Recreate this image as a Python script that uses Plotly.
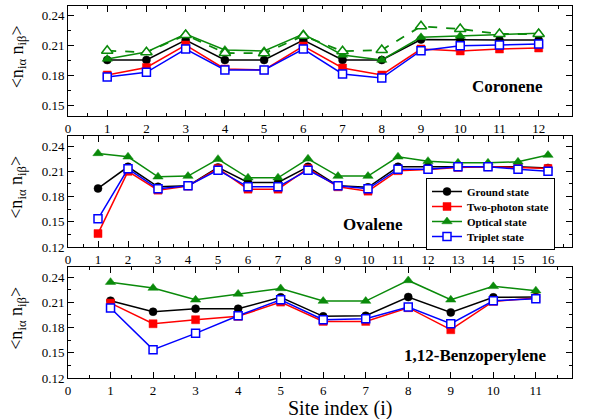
import plotly.graph_objects as go

# ---------------- data ----------------
sites_cor = list(range(1, 13))
ground_cor = [0.195, 0.195, 0.215, 0.195, 0.195, 0.215, 0.195, 0.195, 0.2155, 0.215, 0.215, 0.215]
twophoton_cor = [0.180, 0.1875, 0.210, 0.186, 0.185, 0.209, 0.187, 0.180, 0.206, 0.204, 0.206, 0.207]
optical_cor = [0.196, 0.203, 0.221, 0.205, 0.204, 0.221, 0.200, 0.195, 0.2177, 0.219, 0.221, 0.2217]
optical2_cor = [0.2043, 0.2027, 0.220, 0.202, 0.2017, 0.2193, 0.2037, 0.205, 0.2287, 0.226, 0.221, 0.221]
triplet_cor = [0.178, 0.1827, 0.206, 0.185, 0.185, 0.206, 0.181, 0.177, 0.2043, 0.2093, 0.210, 0.211]

sites_ova = list(range(1, 17))
ground_ova = [0.1896, 0.2154, 0.1916, 0.1928, 0.2146, 0.1967, 0.1967, 0.2154, 0.1928, 0.191,
              0.2154, 0.2154, 0.2154, 0.2154, 0.2154, 0.214]
twophoton_ova = [0.136, 0.210, 0.1876, 0.1924, 0.2134, 0.1888, 0.1888, 0.2134, 0.1916, 0.1864,
                 0.2108, 0.2122, 0.2146, 0.2154, 0.2146, 0.2134]
optical_ova = [0.2313, 0.2273, 0.2035, 0.2043, 0.2245, 0.2023, 0.2023, 0.2249, 0.2043, 0.2043,
               0.2273, 0.2221, 0.2201, 0.2201, 0.2213, 0.2293]
triplet_ova = [0.1535, 0.213, 0.1892, 0.1928, 0.2114, 0.1916, 0.1916, 0.2114, 0.1928, 0.1892,
               0.2126, 0.2126, 0.2154, 0.2154, 0.2126, 0.2102]

sites_bzp = list(range(1, 12))
ground_bzp = [0.2119, 0.1988, 0.2024, 0.2024, 0.2159, 0.1933, 0.194, 0.2163, 0.198, 0.2159, 0.2163]
twophoton_bzp = [0.2091, 0.1845, 0.1893, 0.1933, 0.2103, 0.1873, 0.1873, 0.2036, 0.1774, 0.2111, 0.2151]
optical_bzp = [0.234, 0.227, 0.213, 0.220, 0.2265, 0.2115, 0.2115, 0.236, 0.213, 0.229, 0.2238]
triplet_bzp = [0.2032, 0.1537, 0.1731, 0.194, 0.213, 0.1893, 0.1905, 0.2044, 0.1845, 0.2119, 0.2143]

series_names = ["Ground state", "Two-photon state", "Optical state", "Triplet state"]
y_ticks = [0.12, 0.15, 0.18, 0.21, 0.24]
y_ticklabels = ["0.12", "0.15", "0.18", "0.21", "0.24"]
molecules = ["Coronene", "Ovalene", "1,12-Benzoperylene"]

# ---------------- styling ----------------
SERIF = "Liberation Serif"
GREEN = "#0a8a0a"
styles = [
    dict(color="black", symbol="circle", size=8),
    dict(color="#ff0000", symbol="square", size=8),
    dict(color=GREEN, symbol="triangle-up", size=9),
    dict(color="#0000ff", symbol="square-open", size=8),
]

fig = go.Figure()

panels = [
    (sites_cor, [ground_cor, twophoton_cor, optical_cor, triplet_cor], "x", "y", False),
    (sites_ova, [ground_ova, twophoton_ova, optical_ova, triplet_ova], "x2", "y2", True),
    (sites_bzp, [ground_bzp, twophoton_bzp, optical_bzp, triplet_bzp], "x3", "y3", False),
]

for sites, data, xa, ya, legend in panels:
    for name, vals, st in zip(series_names, data, styles):
        if st["symbol"] == "square-open":
            marker = dict(symbol="square", size=st["size"], color="white",
                          line=dict(color=st["color"], width=1.5))
        else:
            marker = dict(symbol=st["symbol"], size=st["size"], color=st["color"],
                          line=dict(color=st["color"], width=0.5))
        fig.add_trace(go.Scatter(
            x=sites, y=vals, mode="lines+markers", name="<b>" + name + "</b>",
            line=dict(color=st["color"], width=1.5),
            marker=marker, xaxis=xa, yaxis=ya, showlegend=legend,
        ))
    if xa == "x":
        fig.add_trace(go.Scatter(
            x=sites, y=optical2_cor, mode="lines+markers", name="Optical state (2)",
            line=dict(color=GREEN, width=1.8, dash="dash"),
            marker=dict(symbol="triangle-up", size=10, color="white",
                        line=dict(color=GREEN, width=1.5)),
            xaxis=xa, yaxis=ya, showlegend=False,
        ))

# ---------------- layout ----------------
L, R, T, B = 68, 34, 6, 41
W, H = 606, 419
PH = H - T - B


def dom(top_px, bot_px):
    return [(H - B - bot_px) / PH, (H - B - top_px) / PH]


common_x = dict(showgrid=False, zeroline=False, showline=True, linecolor="black", linewidth=1,
                mirror="allticks", ticks="inside", ticklen=6, tickcolor="black", dtick=1, tick0=0,
                minor=dict(ticks="inside", ticklen=3, dtick=0.5, tickcolor="black"),
                tickfont=dict(family=SERIF, size=13, color="black"), domain=[0, 1])
common_y = dict(showgrid=False, zeroline=False, showline=True, linecolor="black", linewidth=1,
                mirror="allticks", ticks="inside", ticklen=6, tickcolor="black",
                tickvals=y_ticks, ticktext=y_ticklabels,
                minor=dict(ticks="inside", ticklen=3, tickvals=[0.135, 0.165, 0.195, 0.225],
                           tickcolor="black"),
                tickfont=dict(family=SERIF, size=13, color="black"))

fig.update_layout(
    width=W, height=H, margin=dict(l=L, r=R, t=T, b=B),
    paper_bgcolor="white", plot_bgcolor="white",
    font=dict(family=SERIF, color="black"),
    xaxis=dict(common_x, range=[0, 12.85], anchor="y"),
    yaxis=dict(common_y, range=[0.139, 0.249], domain=dom(6, 116), anchor="x"),
    xaxis2=dict(common_x, range=[0, 16.8], anchor="y2"),
    yaxis2=dict(common_y, range=[0.12, 0.252], domain=dom(136, 247), anchor="x2"),
    xaxis3=dict(common_x, range=[0, 11.85], anchor="y3"),
    yaxis3=dict(common_y, range=[0.12, 0.252], domain=dom(267, 378), anchor="x3"),
    legend=dict(x=(426 - L) / (W - L - R), y=dom(178, 178)[0], xanchor="left", yanchor="top",
                bgcolor="white", bordercolor="black", borderwidth=1,
                font=dict(family=SERIF, size=11, color="black"),
                tracegroupgap=0, itemwidth=30),
    showlegend=True,
)

annotations = []
label_pos = [(11.2, 0.169, "x", "y"), (10.15, 0.1463, "x2", "y2"), (9.58, 0.1463, "x3", "y3")]
for text, (ax, ay, xr, yr) in zip(molecules, label_pos):
    annotations.append(dict(x=ax, y=ay, xref=xr, yref=yr, text="<b>" + text + "</b>",
                            showarrow=False, font=dict(family=SERIF, size=17, color="black"),
                            xanchor="center", yanchor="middle"))

for top_px, bot_px in [(6, 116), (136, 247), (267, 378)]:
    d = dom(top_px, bot_px)
    annotations.append(dict(x=-(L - 18) / (W - L - R), y=(d[0] + d[1]) / 2 + 0.01, xref="paper",
                            yref="paper", text="&lt;n<sub>iα</sub> n<sub>iβ</sub>&gt;",
                            textangle=-90, showarrow=False,
                            font=dict(family=SERIF, size=18, color="black"),
                            xanchor="center", yanchor="middle"))

annotations.append(dict(x=(340 - L) / (W - L - R), y=-(408 - (H - B)) / PH, xref="paper",
                        yref="paper", text="Site index (i)", showarrow=False,
                        font=dict(family=SERIF, size=20, color="black"),
                        xanchor="center", yanchor="middle"))
fig.update_layout(annotations=annotations)

post = """
document.body.style.margin='0';
document.body.style.overflow='hidden';
var gd = document.getElementById('{plot_id}');
var items = gd.querySelectorAll('.legend .traces');
if (items.length > 1) {
  var re = /translate\\(\\s*([-\\d.e]+)[ ,]+([-\\d.e]+)\\s*\\)/;
  var m0 = re.exec(items[0].getAttribute('transform'));
  var m1 = re.exec(items[1].getAttribute('transform'));
  if (m0 && m1) {
    var y0 = parseFloat(m0[2]);
    var oldStep = parseFloat(m1[2]) - y0;
    var step = 15;
    items.forEach(function(t, i) {
      var m = re.exec(t.getAttribute('transform'));
      t.setAttribute('transform', 'translate(' + m[1] + ',' + (y0 - 2 + i * step) + ')');
    });
    var shrink = (items.length - 1) * (oldStep - step) + 4;
    gd.querySelectorAll('.legend .bg').forEach(function(bg) {
      var h = parseFloat(bg.getAttribute('height'));
      bg.setAttribute('height', h - shrink);
    });
  }
}
"""

fig.write_html("out.html", config={"displayModeBar": False}, post_script=post)
